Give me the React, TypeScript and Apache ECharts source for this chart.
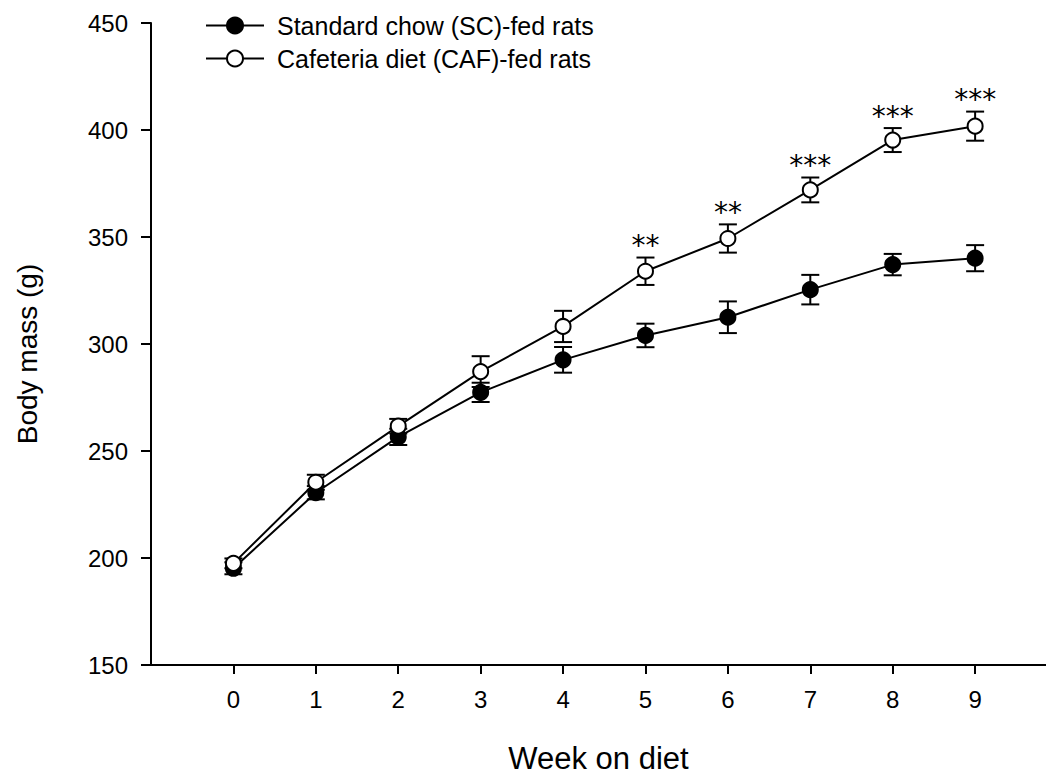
import React, { useEffect, useRef } from "react";
import * as echarts from "echarts";

// Weeks on diet
const weeks = [0, 1, 2, 3, 4, 5, 6, 7, 8, 9];

// Standard chow (SC) group: mean body mass (g) and SEM
const scMean = [195.2, 230.5, 256.6, 277.4, 292.6, 304.0, 312.5, 325.4, 337.1, 340.1];
const scSem = [2.8, 3.1, 3.8, 4.5, 6.0, 5.5, 7.4, 6.9, 5.0, 6.1];

// Cafeteria diet (CAF) group: mean body mass (g) and SEM
const cafMean = [197.5, 235.4, 261.6, 287.1, 308.2, 334.0, 349.3, 372.0, 395.3, 401.8];
const cafSem = [2.3, 3.5, 3.4, 7.2, 7.3, 6.4, 6.6, 5.8, 5.6, 6.8];

// Significance marks (CAF vs SC) per week
const significance = ["", "", "", "", "", "**", "**", "***", "***", "***"];

const yTicks = [150, 200, 250, 300, 350, 400, 450];

const SC_NAME = "Standard chow (SC)-fed rats";
const CAF_NAME = "Cafeteria diet (CAF)-fed rats";

const FONT = "'Liberation Sans', Arial, Helvetica, sans-serif";
const STAR_FONT = "'DejaVu Sans', sans-serif";

function errorBarSeries(mean: number[], sem: number[], marks: string[] | null) {
  return {
    type: "custom",
    z: 1,
    silent: true,
    data: weeks.map((w, i) => [w, mean[i], sem[i]]),
    encode: { x: 0, y: 1 },
    renderItem: (params: any, api: any) => {
      const x = api.value(0);
      const m = api.value(1);
      const e = api.value(2);
      const top = api.coord([x, m + e]);
      const bot = api.coord([x, m - e]);
      const hw = 9;
      const style = { stroke: "#000", lineWidth: 2 };
      const children: any[] = [
        { type: "line", shape: { x1: top[0], y1: top[1], x2: bot[0], y2: bot[1] }, style },
        { type: "line", shape: { x1: top[0] - hw, y1: top[1], x2: top[0] + hw, y2: top[1] }, style },
        { type: "line", shape: { x1: bot[0] - hw, y1: bot[1], x2: bot[0] + hw, y2: bot[1] }, style },
      ];
      const mark = marks ? marks[params.dataIndex] : "";
      if (mark) {
        children.push({
          type: "text",
          x: top[0],
          y: top[1] - 12,
          style: {
            text: mark,
            fill: "#000",
            font: `28px ${STAR_FONT}`,
            align: "center",
            verticalAlign: "middle",
          },
        });
      }
      return { type: "group", children };
    },
  };
}

export default function App() {
  const ref = useRef<HTMLDivElement>(null);

  useEffect(() => {
    if (!ref.current) return;
    const chart = echarts.init(ref.current, null, { renderer: "svg" });

    chart.setOption({
      animation: false,
      backgroundColor: "#fff",
      textStyle: { fontFamily: FONT, color: "#000" },
      legend: {
        left: 200,
        top: 8,
        orient: "vertical",
        itemWidth: 58,
        itemHeight: 20,
        itemGap: 8,
        data: [SC_NAME, CAF_NAME],
        textStyle: { fontSize: 25, color: "#000", fontFamily: FONT, padding: [0, 0, 0, 8] },
      },
      grid: { left: 151, right: 0, top: 23, bottom: 104, containLabel: false },
      xAxis: {
        type: "value",
        min: -1,
        max: 9.86,
        name: "Week on diet",
        nameLocation: "middle",
        nameGap: 78,
        nameTextStyle: { fontSize: 31, color: "#000", fontFamily: FONT },
        axisLine: { show: true, onZero: false, lineStyle: { color: "#000", width: 2 } },
        axisTick: { show: true, length: 9, lineStyle: { color: "#000", width: 2 }, customValues: weeks },
        axisLabel: { fontSize: 24, color: "#000", margin: 22, fontFamily: FONT, customValues: weeks },
        splitLine: { show: false },
      },
      yAxis: {
        type: "value",
        min: 150,
        max: 450,
        interval: 50,
        name: "Body mass (g)",
        nameLocation: "middle",
        nameGap: 110,
        nameRotate: 90,
        nameTextStyle: { fontSize: 28, color: "#000", fontFamily: FONT, padding: [0, 20, 0, 0] },
        axisLine: { show: true, onZero: false, lineStyle: { color: "#000", width: 2 } },
        axisTick: { show: true, length: 10, lineStyle: { color: "#000", width: 2 }, customValues: yTicks },
        axisLabel: { fontSize: 24, color: "#000", margin: 23, fontFamily: FONT, customValues: yTicks },
        splitLine: { show: false },
      },
      series: [
        errorBarSeries(scMean, scSem, null),
        errorBarSeries(cafMean, cafSem, significance),
        {
          name: SC_NAME,
          type: "line",
          z: 3,
          data: weeks.map((w, i) => [w, scMean[i]]),
          symbol: "circle",
          symbolSize: 15,
          lineStyle: { color: "#000", width: 2 },
          itemStyle: { color: "#000", borderColor: "#000", borderWidth: 2 },
        },
        {
          name: CAF_NAME,
          type: "line",
          z: 4,
          data: weeks.map((w, i) => [w, cafMean[i]]),
          symbol: "circle",
          symbolSize: 15,
          lineStyle: { color: "#000", width: 2 },
          itemStyle: { color: "#fff", borderColor: "#000", borderWidth: 2 },
        },
      ],
    });

    return () => chart.dispose();
  }, []);

  return (
    <div
      ref={ref}
      style={{ position: "fixed", left: 0, top: 0, width: 1046, height: 779, background: "#fff" }}
    />
  );
}
